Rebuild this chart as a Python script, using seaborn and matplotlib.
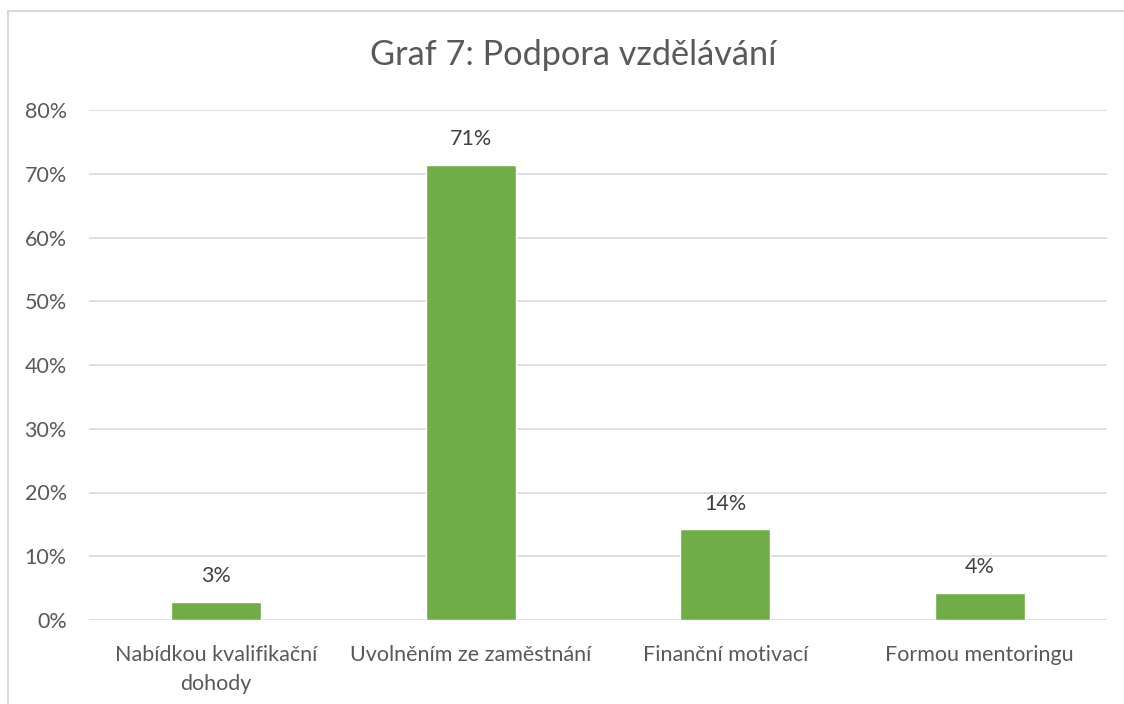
import pandas as pd
import matplotlib.pyplot as plt
import seaborn as sns
from matplotlib.patches import Rectangle
from matplotlib.ticker import PercentFormatter

# Data
categories = ['Nabídkou kvalifikační\ndohody', 'Uvolněním ze zaměstnání',
              'Finanční motivací', 'Formou mentoringu']
shares = [0.0286, 0.7143, 0.1429, 0.0429]
labels = ['3%', '71%', '14%', '4%']

df = pd.DataFrame({'Kategorie': categories, 'Podíl': shares})

sns.set_style('white')
plt.rcParams['font.family'] = ['Lato', 'DejaVu Sans']
text_color = '#595959'

fig = plt.figure(figsize=(11.24, 7.04), dpi=100)
ax = fig.add_axes([89 / 1124, 1 - 620 / 704, 1018 / 1124, 510 / 704])

sns.barplot(data=df, x='Kategorie', y='Podíl', color='#70AD47', width=0.354,
            saturation=1, ax=ax, zorder=3)

ax.set_ylim(0, 0.8)
ax.set_xlim(-0.5, 3.5)
ax.set_yticks([i / 10 for i in range(9)])
ax.yaxis.set_major_formatter(PercentFormatter(1.0, decimals=0))
ax.grid(axis='y', color='#D9D9D9', linewidth=1.2, zorder=0)
ax.set_xlabel('')
ax.set_ylabel('')
for s in ax.spines.values():
    s.set_visible(False)
ax.tick_params(axis='both', length=0, labelsize=15.5, colors=text_color)
ax.tick_params(axis='y', pad=16)
ax.tick_params(axis='x', pad=18)
for t in ax.get_xticklabels():
    t.set_linespacing(1.55)

for p, lab in zip(ax.patches, labels):
    ax.annotate(lab, (p.get_x() + p.get_width() / 2, p.get_height()),
                xytext=(0, 11), textcoords='offset points', ha='center',
                va='bottom', fontsize=15.5, color='#404040')

fig.text(573 / 1124, 1 - 55 / 704, 'Graf 7: Podpora vzdělávání', ha='center',
         va='center', fontsize=24.7, color=text_color)

# chart area border
fig.patches.append(Rectangle((8 / 1124, -0.1), 1.2, 1.1 - 11 / 704,
                             transform=fig.transFigure, fill=False,
                             edgecolor='#D9D9D9', linewidth=1.5))

fig.savefig('out.png', dpi=100)
